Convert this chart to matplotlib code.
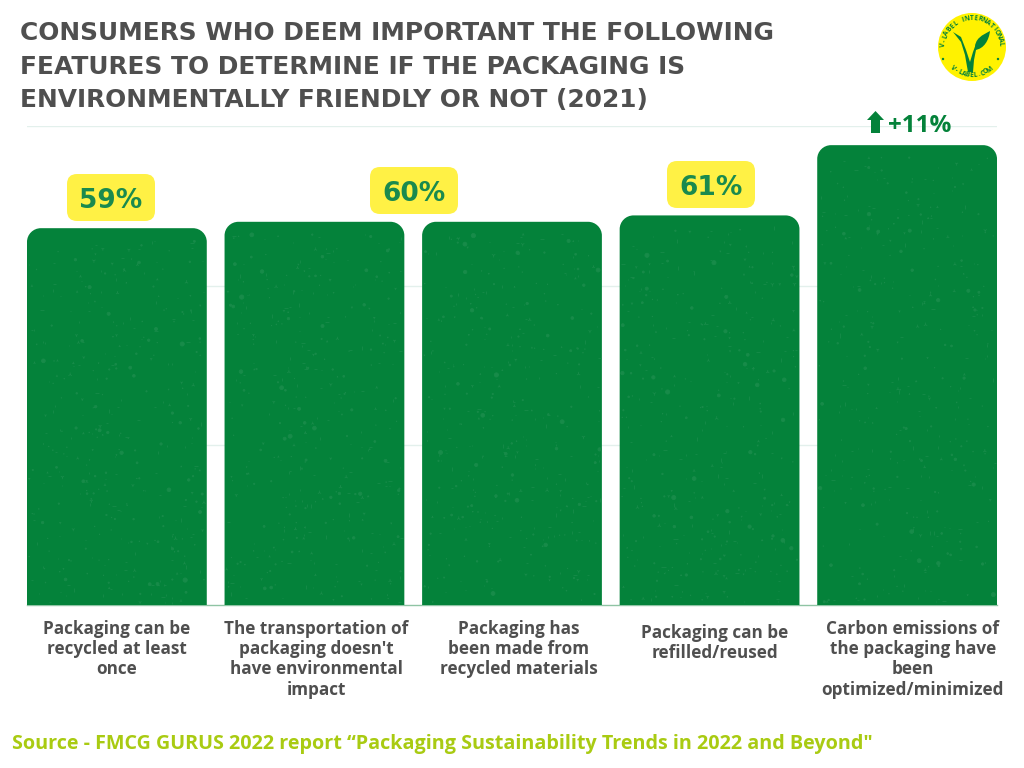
import numpy as np
import matplotlib
matplotlib.use('Agg')
import matplotlib.pyplot as plt
from matplotlib.patches import FancyBboxPatch, PathPatch, Circle, Polygon
from matplotlib.path import Path

W, H = 1024, 768

# chart data
labels = [
    "Packaging can be\nrecycled at least\nonce",
    "The transportation of\npackaging doesn't\nhave environmental\nimpact",
    "Packaging has\nbeen made from\nrecycled materials",
    "Packaging can be\nrefilled/reused",
    "Carbon emissions of\nthe packaging have\nbeen\noptimized/minimized",
]
values = [59, 60, 60, 61, 72]
label_x = [117, 316, 519, 715, 913]
label_y = [620, 620, 620, 624, 620]
GREEN = '#04823a'
SPECK = '#178b49'
GREY = '#4f4f4f'


def rounded_bar(ax, x, h, w, rx, ry):
    # bar with only the top corners rounded
    l, r = x - w / 2, x + w / 2
    k = 0.45
    verts = [(l, 0), (l, h - ry), (l, h - ry * k), (l + rx * k, h), (l + rx, h),
             (r - rx, h), (r - rx * k, h), (r, h - ry * k), (r, h - ry), (r, 0), (l, 0)]
    codes = [Path.MOVETO, Path.LINETO, Path.CURVE4, Path.CURVE4, Path.CURVE4,
             Path.LINETO, Path.CURVE4, Path.CURVE4, Path.CURVE4, Path.LINETO, Path.CLOSEPOLY]
    ax.add_patch(PathPatch(Path(verts, codes), fc=GREEN, ec='none', zorder=3))


def scatter_hash(idx, a):
    return (np.sin(idx * a) * 43758.5453) % 1


def bar_texture(ax, x, h, w, start):
    # faint leaf-like flecks on the bar, purely decorative
    n = 380
    idx = np.arange(start, start + n)
    fx = scatter_hash(idx, 12.9898)
    fy = scatter_hash(idx, 78.233)
    px = x - w / 2 + 0.01 + fx * (w - 0.02)
    py = 0.3 + fy * (h - 2.2)
    sizes = 0.8 + 9 * scatter_hash(idx, 37.719) ** 4
    for m, part in zip(['o', '_', '|', '2', '1'], range(5)):
        sel = idx % 5 == part
        ax.scatter(px[sel], py[sel], s=sizes[sel], marker=m, color=SPECK, lw=0.6, zorder=4)


fig = plt.figure(figsize=(W / 100, H / 100), dpi=100, facecolor='white')

# main axes: 0-75 runs from y=605 up to y=126
ax = fig.add_axes([27 / W, 1 - 605 / H, 970 / W, 479 / H])
ax.set_xlim(-0.455, 4.455)
ax.set_ylim(0, 75)
for s in ax.spines.values():
    s.set_visible(False)
ax.spines['bottom'].set_visible(True)
ax.spines['bottom'].set_color('#8fc4a4')
ax.spines['bottom'].set_linewidth(1)
ax.set_xticks([])
ax.set_yticks([25, 50, 75])
ax.set_yticklabels([])
ax.tick_params(length=0)
ax.grid(axis='y', color='#e3f0ec', lw=1)
ax.set_axisbelow(True)

for i, v in enumerate(values):
    rounded_bar(ax, i, v, 0.91, 0.07, 2.15)
    bar_texture(ax, i, v, 0.91, 1 + i * 500)

# overlay in pixel coordinates for the text and decorations
ov = fig.add_axes([0, 0, 1, 1], facecolor='none')
ov.set_xlim(0, W)
ov.set_ylim(H, 0)
ov.axis('off')

title = ["CONSUMERS WHO DEEM IMPORTANT THE FOLLOWING",
         "FEATURES TO DETERMINE IF THE PACKAGING IS",
         "ENVIRONMENTALLY FRIENDLY OR NOT (2021)"]
for line, y in zip(title, [31, 64, 97]):
    ov.text(20, y, line, family='DejaVu Sans', weight='bold', fontsize=17.95, color=GREY,
            va='center_baseline', ha='left')

for x, lab, y in zip(label_x, labels, label_y):
    ov.text(x, y, lab, family='Open Sans', weight='bold', fontsize=12.3, color=GREY,
            ha='center', va='top', linespacing=1.16)

# yellow value boxes
for txt, cx, top in [("59%", 111, 174), ("60%", 414, 167), ("61%", 711, 161)]:
    ov.add_patch(FancyBboxPatch((cx - 44 + 10, top + 10), 68, 27, boxstyle='round,pad=10,rounding_size=10',
                                fc='#fff145', ec='none', zorder=4))
    ov.text(cx, top + 24, txt, family='DejaVu Sans', weight='bold', fontsize=19, color='#1a8a4e',
            ha='center', va='center_baseline', zorder=5)

# +11% with arrow
ov.add_patch(Polygon([(875.5, 111), (884, 120), (880, 120), (880, 133), (871, 133), (871, 120), (867, 120)],
                     fc=GREEN, ec='none', zorder=5))
ov.text(888, 123, "+11%", family='Open Sans', weight='bold', fontsize=17.5, color=GREEN,
        ha='left', va='center_baseline', zorder=5)

ov.text(12, 742, "Source - FMCG GURUS 2022 report \u201cPackaging Sustainability Trends in 2022 and Beyond\"",
        family='Open Sans', weight='bold', fontsize=14.2, color='#a9cb12', ha='left', va='center_baseline')

# logo
lx, ly, lr = 972, 47, 34
ov.add_patch(Circle((lx, ly), lr, fc='#fff200', ec='none'))
v_shape = Path([(953, 32), (961, 37), (966, 50), (970, 62), (973, 52), (976, 44), (980, 41),
                (976, 50), (974, 60), (973, 72), (968, 72), (965, 55), (961, 42), (953, 32)])
ov.add_patch(PathPatch(v_shape, fc=GREEN, ec='none', zorder=5))
leaf = Path([(975, 50), (974, 38), (983, 35), (990, 31), (989, 40), (984, 49), (975, 50)],
            [Path.MOVETO, Path.CURVE4, Path.CURVE4, Path.CURVE4, Path.CURVE4, Path.CURVE4, Path.CURVE4])
ov.add_patch(PathPatch(leaf, fc=GREEN, ec='none', zorder=5))
for dx in (943, 998):
    ov.add_patch(Circle((dx, 59), 1.2, fc=GREEN, ec='none', zorder=5))
s = "V-LABEL INTERNATIONAL"
for ch, a in zip(s, np.linspace(176, 6, len(s))):
    t = np.radians(a)
    ov.text(lx + 28.5 * np.cos(t), ly - 28.5 * np.sin(t), ch, fontsize=4.8, weight='bold', family='Open Sans',
            color=GREEN, rotation=a - 90, ha='center', va='center', zorder=6)
s = "V-LABEL.COM"
for ch, a in zip(s, np.linspace(228, 308, len(s))):
    t = np.radians(a)
    ov.text(lx + 28.5 * np.cos(t), ly - 28.5 * np.sin(t), ch, fontsize=4.8, weight='bold', family='Open Sans',
            color=GREEN, rotation=a + 90, ha='center', va='center', zorder=6)

fig.savefig('out.png', dpi=100)
